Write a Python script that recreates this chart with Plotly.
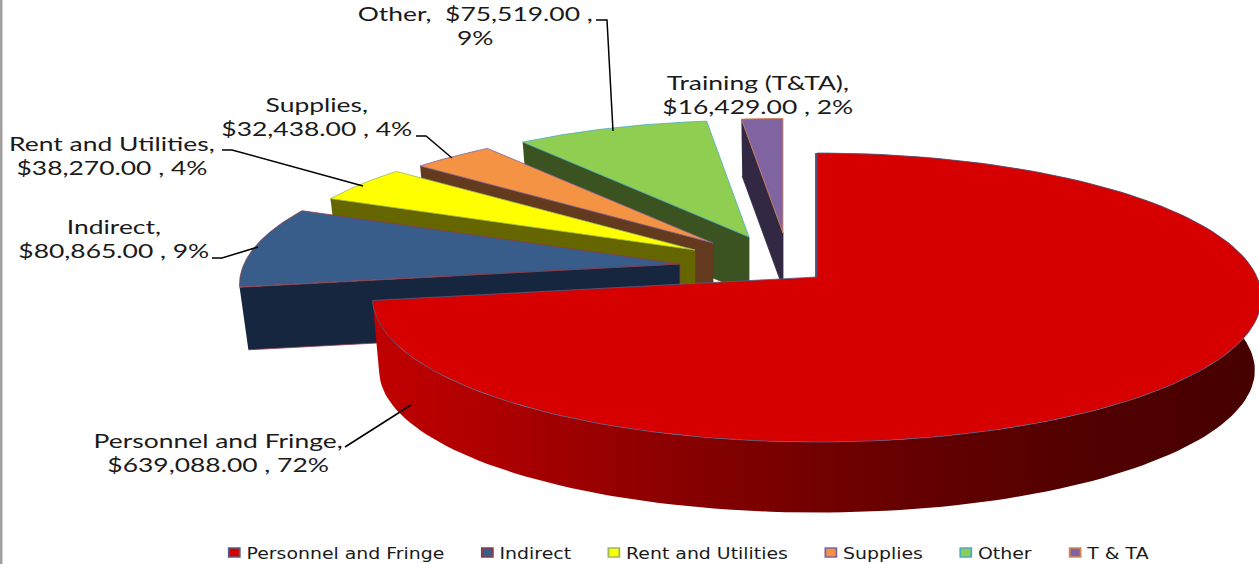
import numpy as np
import plotly.graph_objects as go

# ---- data ----
categories = ["Personnel and Fringe", "Indirect", "Rent and Utilities", "Supplies", "Other", "T & TA"]
label_names = ["Personnel and Fringe", "Indirect", "Rent and Utilities", "Supplies", "Other", "Training (T&TA)"]
values = [639088.00, 80865.00, 38270.00, 32438.00, 75519.00, 16429.00]

# ---- style ----
top_colors = ["#D60000", "#385D8A", "#FFFF00", "#F49343", "#8FCE50", "#8064A2"]
side_colors = ["#A00000", "#16263F", "#666600", "#633A1E", "#3A5320", "#322843"]
edge_colors = ["#4F5F85", "#8C3A4A", "#9BBB59", "#8064A2", "#4BACC6", "#D98A50"]
apex_x = [817, 680, 695, 713, 749, 783]
apex_y = [277, 264, 250, 243, 237, 233]
radial_scale = [1.0, 0.991, 0.956, 0.937, 0.94, 0.925]
bottom_scale = [0.985, 0.98, 0.98, 0.98, 0.98, 0.98]
depth = [73, 63, 60, 58, 56, 55]
label_x = [218, 114, 112, 317, 475, 758]
label_y = [453, 239, 156, 117, 26, 95]
leaders = [
    ([345, 411], [447, 405]),
    ([212, 222, 258], [258, 258, 247]),
    ([222, 232, 363], [150, 150, 186]),
    ([416, 426, 452], [136, 136, 158]),
    ([596, 607, 613], [20, 20, 131]),
]
RX, RY, K = 440.0, 141.6, 0.142
TEXT = "#1A1A1A"
FONT = "Lato"
LABEL_STRETCH = 1.43
LEGEND_STRETCH = 1.22


def project(theta, scale=1.0):
    """Pie angle (degrees clockwise from the top) to a pixel offset from the apex."""
    t = np.radians(theta)
    u, v = np.sin(t), -np.cos(t)
    s = 1 / (1 - K * v)
    return RX * u * s * scale, RY * v * s * scale


total = sum(values)
edges = np.concatenate([[0], np.cumsum(values) / total * 360])
fig = go.Figure()


def poly(xs, ys, fill, line=None):
    fig.add_trace(go.Scatter(
        x=list(xs), y=list(ys), mode="lines", fill="toself", fillcolor=fill,
        line=dict(color=line or fill, width=0.8), hoverinfo="skip", showlegend=False))


# far slices first, the large front slice last
for i in [5, 4, 3, 2, 1, 0]:
    ax, ay = apex_x[i], apex_y[i]
    th = np.linspace(edges[i], edges[i + 1], 160)
    dx, dy = project(th, radial_scale[i])
    bx, by = project(th, radial_scale[i] * bottom_scale[i])
    tx, ty = ax + dx, ay + dy                  # top rim
    lx, ly = ax + bx, ay + depth[i] + by       # bottom rim
    if i == 0:
        # outer wall with left-to-right shading
        fig.add_trace(go.Scatter(
            x=list(tx) + list(lx[::-1]), y=list(ty) + list(ly[::-1]), mode="lines", fill="toself",
            fillgradient=dict(type="horizontal", colorscale=[
                [0, "#C00000"], [0.12, "#B00000"], [0.4, "#800000"], [0.6, "#660000"], [0.8, "#520000"], [1, "#460000"]]),
            line=dict(width=0), hoverinfo="skip", showlegend=False))
    else:
        # cut face on the left of the slice, seen through the gap
        poly([tx[0], ax, ax, lx[0]], [ty[0], ay, ay + depth[i], ly[0]], side_colors[i],
             edge_colors[i] if i == 1 else side_colors[i])
    poly([ax] + list(tx) + [ax], [ay] + list(ty) + [ay], top_colors[i], edge_colors[i])

# thin dark seam on the upper cut edge of the large slice
x0, y0 = project(0.0)
fig.add_trace(go.Scatter(x=[apex_x[0] - 1, apex_x[0] + x0 - 1], y=[apex_y[0], apex_y[0] + y0],
                         mode="lines", line=dict(color="#2A2A55", width=1.5), hoverinfo="skip", showlegend=False))

# leader lines
for lxs, lys in leaders:
    fig.add_trace(go.Scatter(x=lxs, y=lys, mode="lines", line=dict(color="#000000", width=1.5),
                             hoverinfo="skip", showlegend=False))

# frame line at the far left
fig.add_trace(go.Scatter(x=[1, 1], y=[0, 564], mode="lines", line=dict(color="#A0A0A0", width=3),
                         hoverinfo="skip", showlegend=False))

# legend entries
for i, c in enumerate(categories):
    fig.add_trace(go.Scatter(x=[None], y=[None], mode="markers", name=c,
                             marker=dict(symbol="square", size=9, color=top_colors[i],
                                         line=dict(color=edge_colors[i], width=1.5))))

# data labels
for i, n in enumerate(label_names):
    pct = round(values[i] / total * 100)
    money = f"${values[i]:,.2f}"
    if n == "Other":
        txt = f"{n},  {money} ,<br>{pct}%"
    else:
        txt = f"{n},<br>{money} , {pct}%"
    fig.add_annotation(x=label_x[i], y=label_y[i], text=txt, showarrow=False, align="center",
                       xanchor="center", yanchor="middle",
                       font=dict(family=FONT, size=18.5, color=TEXT))

fig.update_layout(
    width=1259, height=564, margin=dict(l=0, r=0, t=0, b=0),
    paper_bgcolor="#FFFFFF", plot_bgcolor="#FFFFFF",
    xaxis=dict(range=[0, 1259], visible=False, fixedrange=True),
    yaxis=dict(range=[564, 0], visible=False, fixedrange=True),
    showlegend=True,
    legend=dict(orientation="h", x=0.157, y=0.0, xanchor="left", yanchor="bottom",
                font=dict(family="DejaVu Sans", size=15.5, color=TEXT), bgcolor="rgba(0,0,0,0)",
                itemwidth=30, tracegroupgap=0),
)

css = (
    f".annotation-text{{transform-box:fill-box;transform-origin:center;transform:scaleX({LABEL_STRETCH});}}"
    f"g.legend .scrollbox{{transform-origin:0 0;transform:translate(0,6px) scaleX({LEGEND_STRETCH});}}"
    "g.legend .scatterpts{transform:translate(30px,0);}"
)
post = (
    "document.body.style.margin='0';"
    f"var s=document.createElement('style');s.textContent={css!r};document.head.appendChild(s);"
)
fig.write_html("out.html", post_script=post, config={"displayModeBar": False})
